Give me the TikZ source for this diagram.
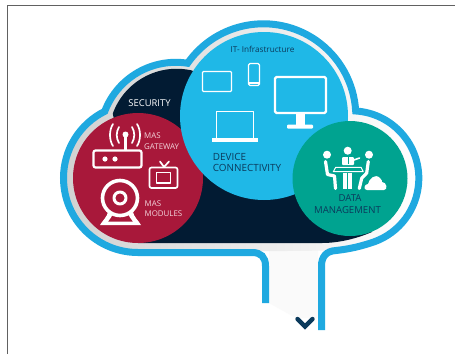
\documentclass[tikz,border=0pt]{standalone}
\usepackage{fontspec}
\setmainfont{Open Sans}
\definecolor{cblue}{HTML}{1FA9E0}
\definecolor{ccyan}{HTML}{1FB8E7}
\definecolor{ccrim}{HTML}{A8183A}
\definecolor{cnavy}{HTML}{021B33}
\definecolor{cteal}{HTML}{00A390}
\definecolor{cdark}{HTML}{0B3A5C}
\definecolor{cpink}{HTML}{F3D5DC}
\newcommand{\cloudarcs}{
  arc[start angle=90,end angle=243.5,radius=74.5pt]
  arc[start angle=200.8,end angle=278.9,radius=76pt]
  arc[start angle=215,end angle=356.7,radius=92.5pt]
  arc[start angle=273.7,end angle=430,radius=67.5pt]
  .. controls (362,246) and (350,249) .. (336,250.5)
}
\tikzset{
  lbl/.style={inner sep=0pt,font=\fontsize{#1}{#1}\selectfont},
  icon/.style={draw=white,line width=#1,line join=round,line cap=round},
  icon/.default=2pt,
  person/.style={draw=white,line width=3.2pt,line cap=round,line join=round},
}
\begin{document}
\begin{tikzpicture}[x=1pt,y=1pt,yscale=-1]
\useasboundingbox (0,0) rectangle (455,354);
\fill[white] (0,0) rectangle (455,354);
% frame
\draw[color=black!62,line width=0.9pt] (7.3,354) -- (7.3,5.3) -- (455,5.3);
% stem interior
\fill[black!2] (269,250) -- (269,303) -- (296,318) -- (318,318) -- (318,250) -- cycle;
% inner band
\shade[left color=black!18,middle color=black!4,right color=white]
  (138,252.5) \cloudarcs -- cycle;
% navy
\fill[cnavy] (138,243) -- (322,243) .. controls (340,243) and (358,238) .. (372,232)
  -- (350,178) -- (264,116)
  -- (192,70.5) arc[start angle=283,end angle=200,radius=68pt] -- cycle;
% outline
\draw[cblue,line width=7pt] (265.5,303) -- (265.5,266) .. controls (265.5,257) and (261,252.5) .. (252,252.5)
  -- (138,252.5) \cloudarcs .. controls (326,251) and (321.5,257) .. (321.5,266) -- (321.5,330);
% circles
\fill[ccrim] (138,178) circle[radius=65pt];
\fill[ccyan] (264,116) circle[radius=84pt];
\fill[cteal] (350,178.5) circle[radius=57.5pt];
% chevron
\draw[cdark,line width=4.4pt,line cap=round,line join=miter] (297.5,319) -- (305,326.5) -- (312.5,319);
% router
\draw[icon=2.2pt,rounded corners=2pt] (93.5,150.5) rectangle (141.5,167.5);
\fill[white] (105,159) circle[radius=2.6pt] (115,159) circle[radius=2.6pt];
\draw[icon=2.2pt] (125.5,135) -- (125.5,150);
\fill[white] (125.5,134.5) circle[radius=3pt];
\draw[icon=1.7pt] (119,127) .. controls (116,132) and (116,138) .. (119,143);
\draw[icon=1.7pt] (132,127) .. controls (135,132) and (135,138) .. (132,143);
\draw[icon=1.7pt] (113,124) .. controls (109,130) and (109,140) .. (113,146);
\draw[icon=1.7pt] (137,124) .. controls (141,130) and (141,140) .. (137,146);
% tv
\draw[icon=1.7pt,rounded corners=2pt] (149.5,167.5) rectangle (177.5,188);
\draw[icon=1.5pt] (156.5,172.5) rectangle (170.5,183);
\draw[icon=1.7pt] (160,161.5) -- (164,167) -- (169,161.5);
% webcam
\draw[icon=3.6pt] (120,198) circle[radius=17.5pt];
\draw[icon=3pt] (120,198) circle[radius=6pt];
\fill[white] (108,212) .. controls (107,217) and (103,220) .. (100,225) -- (141,225) .. controls (138,220) and (134,217) .. (133,212) -- (128,214) .. controls (130,218) and (132,220) .. (133,221.5) -- (108,221.5) .. controls (109,220) and (111,218) .. (113,214) -- cycle;
% devices
\draw[icon=1.3pt,rounded corners=1pt] (202.5,71.5) rectangle (231.5,91.5);
\draw[icon=1.2pt,rounded corners=1.5pt] (248.5,63.5) rectangle (259.5,85.5);
\draw[icon=1.2pt,line cap=butt] (248.5,83) -- (259.5,83);
\draw[icon=2.4pt,rounded corners=1.5pt] (275,77) rectangle (326,113);
\fill[white] (296,113) rectangle (305,125);
\fill[white,rounded corners=1pt] (287,124.5) rectangle (313,128.5);
\draw[icon=1.5pt,line cap=butt] (216.5,138) -- (216.5,111.5) -- (253.5,111.5) -- (253.5,138);
\fill[white] (212,138) rectangle (258,141.5);
% meeting
\fill[white] (327,154.7) circle[radius=4pt] (347.7,150.7) circle[radius=4pt] (369,154.7) circle[radius=4pt];
\draw[person] (325.5,161.5) -- (327.5,174.5) -- (334.5,176) -- (335.5,188.5);
\draw[person] (368.3,161.5) -- (366.7,173) -- (361.7,178.3) -- (359.3,188.5);
\fill[white,rounded corners=1pt] (342,157) -- (354,157) -- (354,165) -- (342,165) -- cycle;
\draw[cteal,line width=0.8pt] (348,157) -- (348,164);
\draw[icon=1.6pt] (354,160) -- (359.5,158);
\draw[icon=1pt] (335.7,167.3) -- (361,167.3) -- (363.3,171.7) -- (333.3,171.7) -- cycle;
\draw[draw=white,line width=3.2pt,line cap=butt] (345,172.5) -- (345,189) (350,172.5) -- (350,189);
\fill[white] (367,190) .. controls (363,190) and (364,184) .. (368,184) .. controls (369,179) and (375,173) .. (380,178)
  .. controls (382,180) and (382,181) .. (382,182) .. controls (387,182) and (388,190) .. (384,190) -- cycle;
% labels
\node[lbl=9.4,text=white] (sec) at (149.5,103.5) {SECURITY};
\node[lbl=8.2,text=cdark] (it) at (262.5,49) {IT- Infrastructure};
\node[lbl=9.9,text=cdark,anchor=west] (dev) at (212.7,156.5) {DEVICE};
\node[lbl=9.9,text=cdark,anchor=west] (con) at (212.7,167.5) {CONNECTIVITY};
\node[lbl=7.9,text=cpink,anchor=west] (g1) at (144,136) {MAS};
\node[lbl=7.9,text=cpink,anchor=west] (g2) at (144,146.5) {GATEWAY};
\node[lbl=7.9,text=cpink,anchor=west] (m1) at (144.5,203.5) {MAS};
\node[lbl=7.9,text=cpink,anchor=west] (m2) at (144.5,214) {MODULES};
\node[lbl=9.6,text=cdark] (d1) at (350,198.5) {DATA};
\node[lbl=9.6,text=cdark] (d2) at (347.5,210.5) {MANAGEMENT};
\end{tikzpicture}
\end{document}
